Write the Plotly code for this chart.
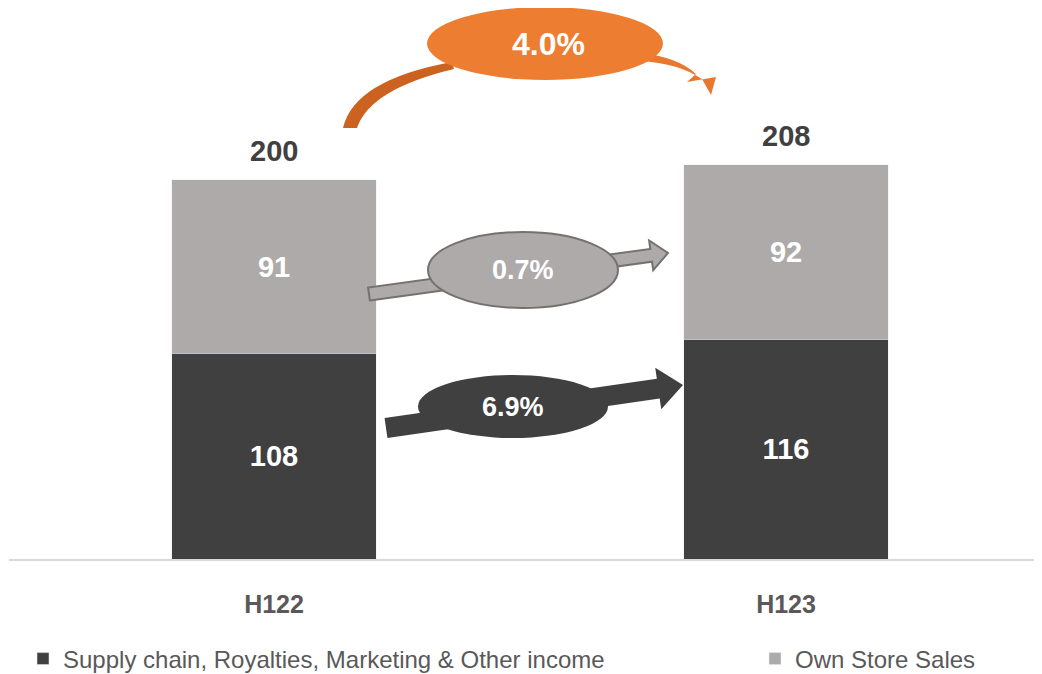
import plotly.graph_objects as go

# ---- data ----
periods = ["H122", "H123"]
supply_chain = [108.4, 115.9]   # Supply chain, Royalties, Marketing & Other income
own_store = [91.3, 91.9]        # Own Store Sales
totals = [a + b for a, b in zip(supply_chain, own_store)]
growth_total = "4.0%"
growth_own = "0.7%"
growth_supply = "6.9%"
series_names = ["Supply chain, Royalties, Marketing & Other income", "Own Store Sales"]

DARK = "#404040"
LIGHT = "#AEAAAA"
ORANGE = "#ED7D31"
FONT = "Liberation Sans, Arial, sans-serif"

# page offset (body margin) and layout geometry (figure pixels)
OFF = 8
FW, FH = 1034, 666
L, R, T, B = 1, 0, 0, 115
W, H = FW - L - R, FH - T - B
PPU = 1.898  # pixels per value unit
YMAX = H / PPU


def px(x, y):
    """reference screen pixel -> paper coords"""
    fx, fy = x - OFF, y - OFF
    return (fx - L) / W, (H + T - fy) / H


def pstr(x, y):
    a, b = px(x, y)
    return f"{a:.5f},{b:.5f}"


def arrow_path(x0, y0, x1, y1, sw, hw, hl):
    dx, dy = x1 - x0, y1 - y0
    ln = (dx * dx + dy * dy) ** 0.5
    dx, dy = dx / ln, dy / ln
    nx, ny = -dy, dx
    bx, by = x1 - dx * hl, y1 - dy * hl
    pts = [
        (x0 + nx * sw / 2, y0 + ny * sw / 2),
        (bx + nx * sw / 2, by + ny * sw / 2),
        (bx + nx * hw / 2, by + ny * hw / 2),
        (x1, y1),
        (bx - nx * hw / 2, by - ny * hw / 2),
        (bx - nx * sw / 2, by - ny * sw / 2),
        (x0 - nx * sw / 2, y0 - ny * sw / 2),
    ]
    return "M" + " L".join(pstr(*p) for p in pts) + " Z"


def ellipse(x0, y0, x1, y1, fill, line_color=None, line_width=0):
    a0, b0 = px(x0, y1)
    a1, b1 = px(x1, y0)
    return dict(type="circle", xref="paper", yref="paper", x0=a0, x1=a1, y0=b0, y1=b1,
                fillcolor=fill, line=dict(color=line_color or fill, width=line_width))


fig = go.Figure()
fig.add_trace(go.Bar(
    x=periods, y=supply_chain, name=series_names[0], marker_color=DARK, width=0.4,
    texttemplate="%{y:.0f}", textposition="inside", insidetextanchor="middle",
    textfont=dict(color="white", size=29, family=FONT, weight="bold"), legend="legend",
))
fig.add_trace(go.Bar(
    x=periods, y=own_store, name=series_names[1], marker_color=LIGHT, width=0.4,
    texttemplate="%{y:.0f}", textposition="inside", insidetextanchor="middle",
    textfont=dict(color="white", size=29, family=FONT, weight="bold"), legend="legend2",
))

annotations = []
for p, t in zip(periods, totals):
    annotations.append(dict(x=p, y=t, text=f"{t:.0f}", showarrow=False, yanchor="bottom",
                            yshift=11, font=dict(size=29, color=DARK, family=FONT, weight="bold")))

shapes = []
# orange curved arrow (total growth)
orange_left = ("M" + pstr(343, 128) + " Q" + pstr(354, 80) + " " + pstr(452, 62)
               + " L" + pstr(454, 69) + " Q" + pstr(370, 89) + " " + pstr(357, 128) + " Z")
orange_right = ("M" + pstr(640, 53) + " Q" + pstr(678, 57) + " " + pstr(696, 74)
                + " L" + pstr(687, 82) + " L" + pstr(716, 77) + " L" + pstr(711, 95)
                + " L" + pstr(702, 79) + " Q" + pstr(678, 63) + " " + pstr(640, 61) + " Z")
shapes.append(dict(type="path", xref="paper", yref="paper", path=orange_left,
                   fillcolor="#CC6220", line=dict(width=0)))
shapes.append(dict(type="path", xref="paper", yref="paper", path=orange_right,
                   fillcolor="#E8782E", line=dict(width=0)))
shapes.append(ellipse(427, 7, 663, 80, ORANGE))

# gray arrow (own store growth)
shapes.append(dict(type="path", xref="paper", yref="paper",
                   path=arrow_path(369, 294, 668, 253, 13, 30, 17),
                   fillcolor=LIGHT, line=dict(color="#767171", width=2)))
shapes.append(ellipse(428, 232, 618, 308, LIGHT, "#767171", 2))

# dark arrow (supply chain growth)
shapes.append(dict(type="path", xref="paper", yref="paper",
                   path=arrow_path(386, 428, 683, 385, 20, 42, 25),
                   fillcolor=DARK, line=dict(width=0)))
shapes.append(ellipse(418, 375, 608, 438, DARK))

for txt, (cx, cy), size in [(growth_total, (548, 44), 32), (growth_own, (523, 270), 27),
                            (growth_supply, (513, 407), 27)]:
    a, b = px(cx, cy)
    annotations.append(dict(xref="paper", yref="paper", x=a, y=b, text=txt, showarrow=False,
                            xanchor="center", yanchor="middle",
                            font=dict(size=size, color="white", family=FONT, weight="bold")))

legend_font = dict(size=24, color="#595959", family=FONT)
fig.update_layout(
    width=FW, height=FH,
    barmode="stack",
    plot_bgcolor="white", paper_bgcolor="white",
    margin=dict(l=L, r=R, t=T, b=B, autoexpand=False),
    shapes=shapes, annotations=annotations,
    showlegend=True,
    legend=dict(orientation="h", x=px(23, 0)[0], xanchor="left", y=px(0, 659)[1], yanchor="middle",
                font=legend_font, itemwidth=30),
    legend2=dict(orientation="h", x=px(755, 0)[0], xanchor="left", y=px(0, 659)[1], yanchor="middle",
                 font=legend_font, itemwidth=30),
    xaxis=dict(type="category", range=[-0.5176, 1.5], showline=True, linecolor="#D9D9D9",
               linewidth=2, ticks="", showgrid=False, ticklabelstandoff=22,
               tickfont=dict(size=25, color="#595959", family=FONT, weight="bold")),
    yaxis=dict(range=[0, YMAX], visible=False, showgrid=False),
    font=dict(family=FONT),
)

fig.write_html("out.html")
